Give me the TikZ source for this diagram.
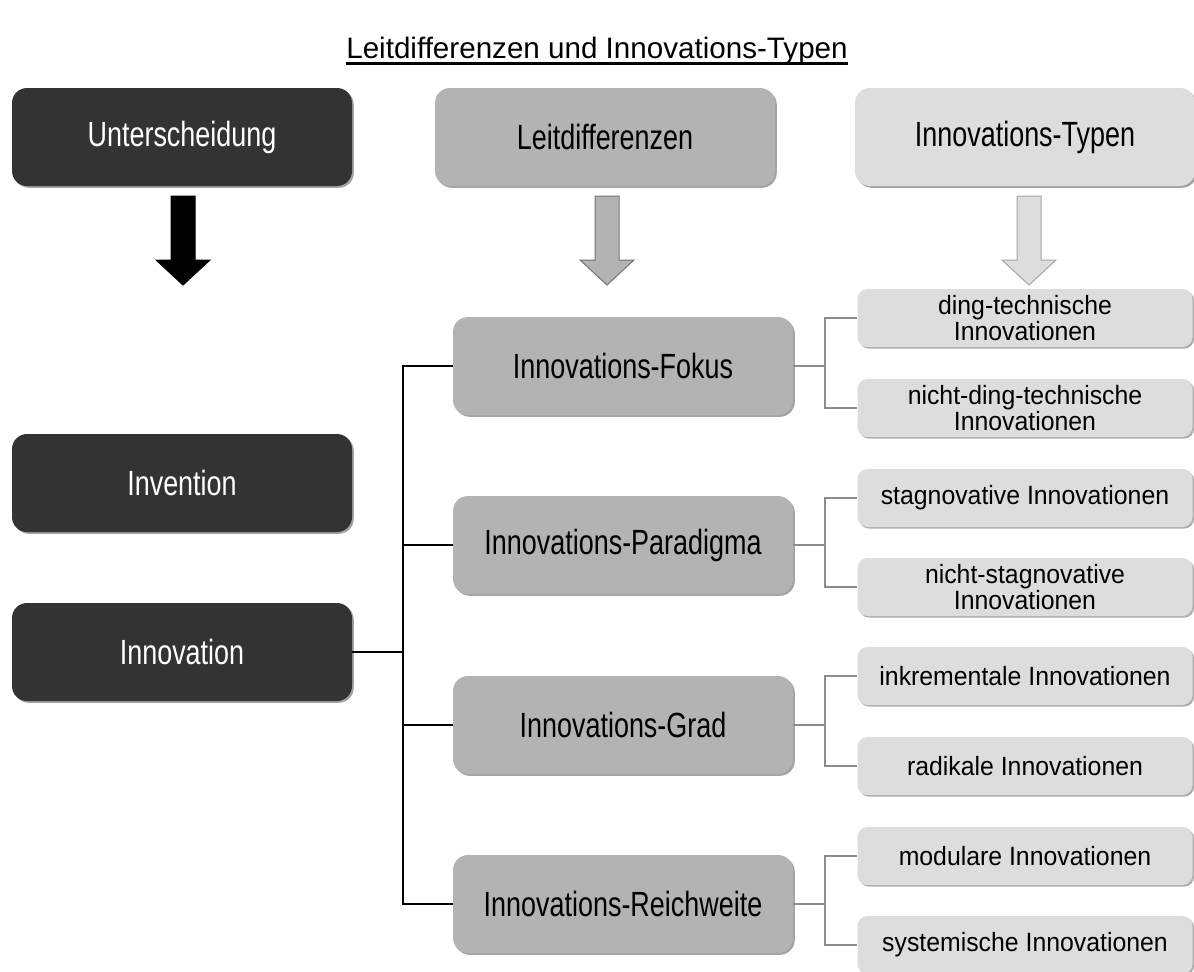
\documentclass[tikz,border=0pt]{standalone}
\usepackage{fontspec}
\setmainfont{Liberation Sans}
\newfontfamily\narrowfont[FakeStretch=0.77]{Liberation Sans}
\newfontfamily\typfont[FakeStretch=0.94]{Liberation Sans}
\usetikzlibrary{shadows, positioning}

\definecolor{boxdark}{HTML}{333333}
\definecolor{boxmid}{HTML}{B3B3B3}
\definecolor{boxlight}{HTML}{DDDDDD}
\definecolor{bracketgray}{HTML}{8C8C8C}

\tikzset{
  bigbox/.style={rectangle, rounded corners=7.5pt, minimum width=170pt, minimum height=49pt, align=center,
    font=\narrowfont\fontsize{17.5}{19}\selectfont,
    drop shadow={shadow xshift=0.9pt, shadow yshift=-0.9pt, fill=black!45, opacity=0.8}},
  darkbox/.style={bigbox, fill=boxdark, text=white},
  midbox/.style={bigbox, fill=boxmid, text=black},
  lightbox/.style={bigbox, fill=boxlight, text=black},
  typbox/.style={rectangle, rounded corners=5pt, minimum width=167.5pt, minimum height=29pt, inner sep=1pt,
    fill=boxlight, align=center, font=\typfont\fontsize{13.2}{13.4}\selectfont,
    drop shadow={shadow xshift=0.8pt, shadow yshift=-0.8pt, fill=black!40, opacity=0.8}},
  conn/.style={draw=black, line width=1.4pt},
  bracket/.style={draw=bracketgray, line width=1.3pt},
  titletext/.style={anchor=base, inner xsep=0pt, font=\fontsize{14.8}{18}\selectfont}
}

\begin{document}
\begin{tikzpicture}[x=0.5pt, y=-0.5pt]
\useasboundingbox[fill=white] (0,0) rectangle (1194,971);

% title
\node[titletext] (ttl) at (597,58) {Leitdifferenzen und Innovations-Typen};
\draw[line width=1.4pt] ([yshift=-2.8pt]ttl.base west) -- ([yshift=-2.8pt]ttl.base east);

% column heads
\node[darkbox] (unter) at (182,137) {Unterscheidung};
\node[midbox] (leit) at (605,137) {Leitdifferenzen};
\node[lightbox] (typen) at (1025,137) {Innovations-Typen};

% block arrows
\foreach \ax/\col/\edge in {183/black/black, 607/boxmid/black!55, 1029/boxlight/black!35}
  \filldraw[fill=\col, draw=\edge, line width=0.5pt]
    (\ax-12,196) -- (\ax+12,196) -- (\ax+12,260) -- (\ax+27,260) -- (\ax,285)
    -- (\ax-27,260) -- (\ax-12,260) -- cycle;

% left column
\node[darkbox] (invent) at (182,483) {Invention};
\node[darkbox] (innov) at (182,652) {Innovation};

% middle column
\node[midbox] (fokus) at (623,366) {Innovations-Fokus};
\node[midbox] (para) at (623,545) {Innovations-Paradigma};
\node[midbox] (grad) at (623,725) {Innovations-Grad};
\node[midbox] (reich) at (623,904) {Innovations-Reichweite};

% right column
\node[typbox] (ding) at (1025,318) {ding-technische\\Innovationen};
\node[typbox] (nding) at (1025,408) {nicht-ding-technische\\Innovationen};
\node[typbox] (stag) at (1025,498) {stagnovative Innovationen};
\node[typbox] (nstag) at (1025,587) {nicht-stagnovative\\Innovationen};
\node[typbox] (inkr) at (1025,676) {inkrementale Innovationen};
\node[typbox] (radi) at (1025,766) {radikale Innovationen};
\node[typbox] (modu) at (1025,856) {modulare Innovationen};
\node[typbox] (syst) at (1025,945) {systemische Innovationen};

% black tree
\coordinate (trunk) at (403,0);
\draw[conn] (fokus.west) -- (fokus.west -| trunk) -- (reich.west -| trunk) -- (reich.west);
\draw[conn] (para.west) -- (para.west -| trunk);
\draw[conn] (grad.west) -- (grad.west -| trunk);
\draw[conn] (innov.east) -- (innov.east -| trunk);

% gray brackets
\coordinate (br) at (825,0);
\foreach \p/\a/\b in {fokus/ding/nding, para/stag/nstag, grad/inkr/radi, reich/modu/syst} {
  \draw[bracket] (\p.east) -- (\p.east -| br);
  \draw[bracket] (\a.west) -- (\a.west -| br) -- (\b.west -| br) -- (\b.west);
}
\end{tikzpicture}
\end{document}
